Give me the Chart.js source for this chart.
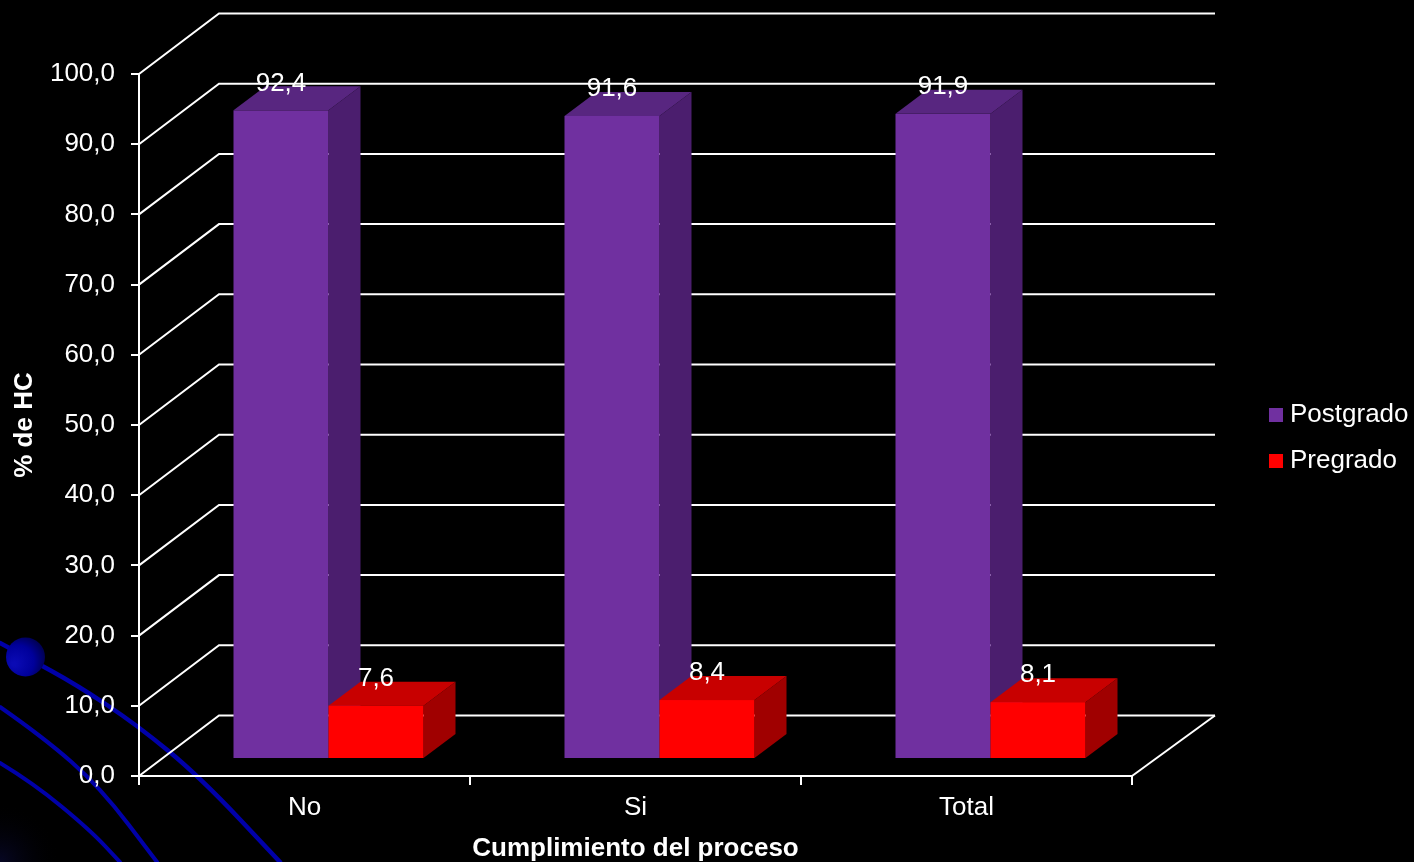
<!DOCTYPE html>
<html>
<head>
<meta charset="utf-8">
<script src="https://cdn.jsdelivr.net/npm/chart.js@4.4.1/dist/chart.umd.min.js"></script>
<style>
  html, body { margin: 0; padding: 0; background: #000; }
  canvas { display: block; }
</style>
</head>
<body>
<canvas id="chart" width="1414" height="862"></canvas>
<script>
let categories = ["No", "Si", "Total"];
let postgrado = [92.4, 91.6, 91.9];
let pregrado = [7.6, 8.4, 8.1];
let seriesNames = ["Postgrado", "Pregrado"];
let yMin = 0, yMax = 100, yStep = 10;

// front, top, side
let purpleFaces = ["#7030a0", "#582680", "#4b1e6e"];
let redFaces = ["#ff0000", "#c80000", "#a00000"];

let fontName = "'Liberation Sans', Arial, sans-serif";
let wallDx = 80, wallDxRight = 83, wallDy = -60.5;   // depth of the back wall
let barOffX = 24, barOffY = -17;   // bars stand a little inside the floor
let barDx = 32, barDy = -24;       // depth of one bar

function fmt(v){ return Number(v).toFixed(1).replace('.', ','); }

function poly(ctx, pts){
	ctx.beginPath();
	ctx.moveTo(pts[0][0], pts[0][1]);
	for (let i = 1; i < pts.length; i++) ctx.lineTo(pts[i][0], pts[i][1]);
	ctx.closePath();
	ctx.fill();
}

function smoothLine(ctx, pts){
	ctx.beginPath();
	ctx.moveTo(pts[0][0], pts[0][1]);
	for (let i = 1; i < pts.length - 1; i++){
		let mx = (pts[i][0] + pts[i+1][0]) / 2;
		let my = (pts[i][1] + pts[i+1][1]) / 2;
		ctx.quadraticCurveTo(pts[i][0], pts[i][1], mx, my);
	}
	let last = pts[pts.length - 1];
	ctx.lineTo(last[0], last[1]);
	ctx.stroke();
}

// black slide with the blue swirl in the corner, then the back wall
let backdrop = {
	id: 'backdrop',
	beforeDraw(chart){
		let ctx = chart.ctx;
		ctx.save();
		ctx.fillStyle = '#000';
		ctx.fillRect(0, 0, chart.width, chart.height);

		let g = ctx.createRadialGradient(0, 862, 0, 0, 862, 60);
		g.addColorStop(0, 'rgba(8,8,45,0.8)');
		g.addColorStop(1, 'rgba(0,0,0,0)');
		ctx.fillStyle = g;
		ctx.fillRect(0, 780, 80, 82);

		ctx.strokeStyle = '#0000a8';
		ctx.lineCap = 'round';
		ctx.lineWidth = 4.5;
		smoothLine(ctx, [[0,643],[26,657],[77,685],[137,725],[200,777],[280,862]]);
		ctx.lineWidth = 4;
		smoothLine(ctx, [[0,707],[43,737],[100,787],[157,862]]);
		smoothLine(ctx, [[0,763],[33,783],[90,830],[120,862]]);

		let bg = ctx.createRadialGradient(14, 664, 2, 20, 660, 26);
		bg.addColorStop(0, '#0a0ab4');
		bg.addColorStop(0.6, '#00009a');
		bg.addColorStop(1, '#000050');
		ctx.fillStyle = bg;
		ctx.beginPath();
		ctx.arc(25.5, 657, 19.5, 0, Math.PI * 2);
		ctx.fill();

		// back wall + floor
		let ys = chart.scales.y;
		let area = chart.chartArea;
		ctx.strokeStyle = '#ffffff';
		ctx.lineWidth = 2;
		ctx.lineCap = 'butt';
		ys.ticks.forEach(t => {
			let yf = ys.getPixelForValue(t.value);
			ctx.beginPath();
			ctx.moveTo(area.left, yf);
			ctx.lineTo(area.left + wallDx, yf + wallDy);
			ctx.lineTo(area.right + wallDxRight, yf + wallDy);
			ctx.stroke();
		});
		let y0 = ys.getPixelForValue(yMin);
		ctx.beginPath();
		ctx.moveTo(area.right, y0);
		ctx.lineTo(area.right + wallDxRight, y0 + wallDy);
		ctx.stroke();
		ctx.restore();
	}
};

let bars3d = {
	id: 'bars3d',
	beforeDatasetsDraw(chart){
		let ctx = chart.ctx;
		ctx.save();
		let labels = [];
		chart.data.datasets.forEach((ds, di) => {
			let meta = chart.getDatasetMeta(di);
			meta.data.forEach((bar, i) => {
				let p = bar.getProps(['x', 'y', 'base', 'width'], true);
				let l = p.x - p.width / 2 + barOffX, r = p.x + p.width / 2 + barOffX;
				let t = p.y + barOffY, b = p.base + barOffY;
				ctx.fillStyle = ds.faces[2];
				poly(ctx, [[r, t], [r + barDx, t + barDy], [r + barDx, b + barDy], [r, b]]);
				ctx.fillStyle = ds.faces[1];
				poly(ctx, [[l, t], [l + barDx, t + barDy], [r + barDx, t + barDy], [r, t]]);
				ctx.fillStyle = ds.faces[0];
				ctx.fillRect(l, t, r - l, b - t);
				labels.push([fmt(ds.data[i]), (l + r) / 2, t - 27]);
			});
		});
		ctx.fillStyle = '#fff';
		ctx.font = '26px ' + fontName;
		ctx.textAlign = 'center';
		ctx.textBaseline = 'middle';
		labels.forEach(lb => ctx.fillText(lb[0], lb[1], lb[2]));
		ctx.restore();
		return false;
	},
	afterDraw(chart){
		let ctx = chart.ctx;
		ctx.save();
		ctx.font = '26px ' + fontName;
		ctx.textBaseline = 'middle';
		chart.data.datasets.forEach((ds, di) => {
			let y = 408 + di * 46;
			ctx.fillStyle = ds.faces[0];
			ctx.fillRect(1269, y, 14, 14);
			ctx.fillStyle = '#fff';
			ctx.fillText(ds.label, 1290, y + 7);
		});
		ctx.restore();
	}
};

new Chart(document.getElementById('chart'), {
	type: 'bar',
	data: {
		labels: categories,
		datasets: [
			{ label: seriesNames[0], data: postgrado, backgroundColor: purpleFaces[0], faces: purpleFaces },
			{ label: seriesNames[1], data: pregrado, backgroundColor: redFaces[0], faces: redFaces }
		]
	},
	options: {
		responsive: false,
		animation: false,
		categoryPercentage: 0.574,
		barPercentage: 1,
		layout: { padding: { top: 74, right: 282, left: 0, bottom: 0 } },
		plugins: { legend: { display: false }, tooltip: { enabled: false } },
		scales: {
			x: {
				grid: { drawOnChartArea: false, tickLength: 9, color: '#fff', lineWidth: 2, offset: true },
				border: { color: '#fff', width: 2 },
				ticks: { color: '#fff', font: { family: fontName, size: 26 }, padding: 7 },
				title: {
					display: true, text: 'Cumplimiento del proceso', color: '#fff',
					font: { family: fontName, size: 26, weight: 'bold', lineHeight: 1 },
					padding: { top: 0, bottom: 0 }
				},
				afterFit(scale){ scale.height = 86; }
			},
			y: {
				min: yMin, max: yMax,
				ticks: { stepSize: yStep, color: '#fff', font: { family: fontName, size: 26 }, padding: 16, callback: v => fmt(v) },
				grid: { drawOnChartArea: false, tickLength: 8, color: '#fff', lineWidth: 2 },
				border: { color: '#fff', width: 2 },
				title: {
					display: true, text: '% de HC', color: '#fff',
					font: { family: fontName, size: 26, weight: 'bold', lineHeight: 1.2 },
					padding: { top: 9, bottom: 0 }
				},
				afterFit(scale){ scale.width = 139; }
			}
		}
	},
	plugins: [backdrop, bars3d]
});
</script>
</body>
</html>
